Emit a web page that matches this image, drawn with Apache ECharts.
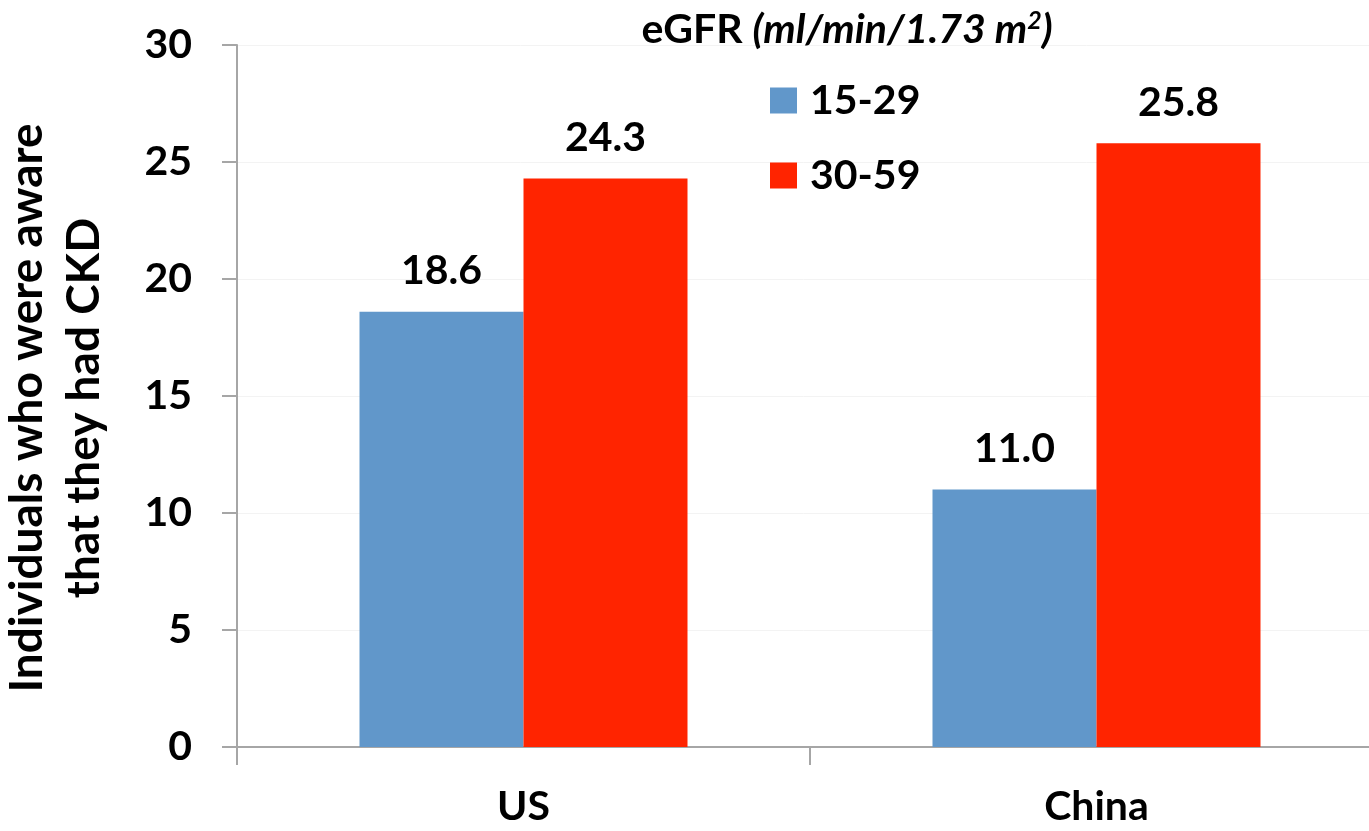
<!DOCTYPE html>
<html>
<head>
<meta charset="utf-8">
<script src="https://cdn.jsdelivr.net/npm/echarts@6/dist/echarts.min.js"></script>
<style>html,body{margin:0;padding:0;background:#fff}#c{width:1369px;height:831px}</style>
</head>
<body>
<div id="c"></div>
<script>
const categories = ['US', 'China'];
const seriesNames = ['15-29', '30-59'];
const values1529 = [18.6, 11.0];
const values3059 = [24.3, 25.8];
const yTicks = [0, 5, 10, 15, 20, 25, 30];

const FONT = 'Lato';
const FS = 41;
const chart = echarts.init(document.getElementById('c'));
const labelStyle = {
  show: true, position: 'top', distance: 20, color: '#000',
  fontFamily: FONT, fontWeight: 'bold', fontSize: FS,
  formatter: p => p.value.toFixed(1)
};
chart.setOption({
  animation: false,
  title: {
    left: 842, top: 3, textAlign: 'center',
    text: '{b|eGFR }{i|(ml/min/1.73 m}{s|2}{i|)}',
    textStyle: {
      rich: {
        b: {fontFamily: FONT, fontWeight: 'bold', fontSize: FS, color: '#000'},
        i: {fontFamily: FONT, fontWeight: 'bold', fontStyle: 'italic', fontSize: FS, color: '#000'},
        s: {fontFamily: FONT, fontWeight: 'bold', fontStyle: 'italic', fontSize: 25, color: '#000', verticalAlign: 'top', padding: [0,0,18,0]}
      }
    }
  },
  legend: {
    orient: 'vertical', left: 765, top: 75, itemGap: 34,
    icon: 'rect', itemWidth: 27, itemHeight: 26,
    textStyle: {fontFamily: FONT, fontWeight: 'bold', fontSize: FS, color: '#000', padding: [6,0,0,8]},
    data: seriesNames
  },
  grid: {left: 237, right: -14, top: 45, bottom: 84, outerBoundsMode: 'none', containLabel: false},
  xAxis: {
    type: 'category', data: categories,
    axisLine: {lineStyle: {color: '#a6a6a6', width: 2}},
    axisTick: {show: true, length: 18, lineStyle: {color: '#a6a6a6', width: 2}},
    axisLabel: {margin: 39, color: '#000', fontFamily: FONT, fontWeight: 'bold', fontSize: FS}
  },
  yAxis: {
    type: 'value', min: yTicks[0], max: yTicks[yTicks.length-1], interval: 5,
    name: 'Individuals who were aware\nthat they had CKD',
    nameLocation: 'middle', nameGap: 124,
    nameTextStyle: {fontFamily: FONT, fontWeight: 'bold', fontSize: 46, color: '#000', lineHeight: 57, padding: [0, 24, 0, 0]},
    axisLine: {show: true, lineStyle: {color: '#a6a6a6', width: 2}},
    axisTick: {show: true, length: 15, lineStyle: {color: '#a6a6a6', width: 2}},
    splitLine: {show: true, lineStyle: {color: '#f3f3f3', width: 1}},
    axisLabel: {margin: 45, color: '#000', fontFamily: FONT, fontWeight: 'bold', fontSize: FS}
  },
  series: [
    {name: seriesNames[0], type: 'bar', data: values1529, barWidth: 164, barGap: '0%',
     itemStyle: {color: '#6197CA'}, label: labelStyle},
    {name: seriesNames[1], type: 'bar', data: values3059, barWidth: 164, barGap: '0%',
     itemStyle: {color: '#FF2400'}, label: labelStyle}
  ]
});
</script>
</body>
</html>
